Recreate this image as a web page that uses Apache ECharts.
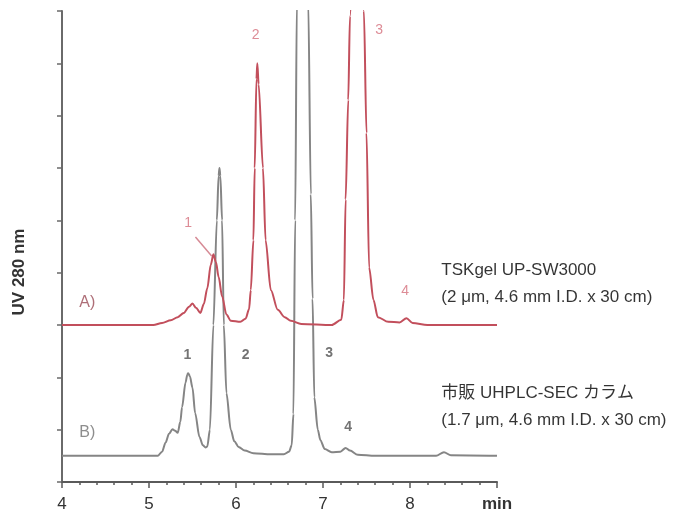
<!DOCTYPE html>
<html lang="ja">
<head>
  <meta charset="UTF-8">
  <title>UV 280 nm chromatogram</title>
  <script src="https://cdn.jsdelivr.net/npm/echarts@6/dist/echarts.min.js"></script>
  <style>
    * { margin: 0; padding: 0; }
    body { background: #fff; }
    #chart { width: 690px; height: 515px; }
  </style>
</head>
<body>
  <div id="chart"></div>
  <script>
    // A) TSKgel UP-SW3000 : [min, signal]
    const traceA = [
      [4.0, 3.0], [5.05, 3.0], [5.15, 3.04], [5.25, 3.09], [5.33, 3.15], [5.40, 3.23], [5.46, 3.35], [5.50, 3.41],
      [5.54, 3.33], [5.59, 3.23], [5.63, 3.40], [5.67, 3.70], [5.71, 4.15], [5.74, 4.35], [5.77, 4.2],
      [5.80, 3.92], [5.84, 3.55], [5.89, 3.2], [5.94, 3.08], [6.05, 3.06], [6.11, 3.12], [6.15, 3.3], [6.17, 3.67],
      [6.20, 4.62], [6.215, 6.0], [6.235, 7.7], [6.245, 8.0], [6.26, 7.6], [6.31, 6.0], [6.34, 4.62], [6.40, 3.67],
      [6.48, 3.29], [6.56, 3.15], [6.63, 3.08], [6.75, 3.02], [7.1, 3.0], [7.21, 3.10], [7.24, 3.48], [7.26, 5.4],
      [7.29, 7.3], [7.31, 8.9], [7.39, 14], [7.47, 9.0], [7.50, 6.67], [7.53, 4.1], [7.58, 3.48], [7.63, 3.15],
      [7.75, 3.06], [7.88, 3.05], [7.96, 3.13], [8.03, 3.04], [8.2, 3.0], [9.0, 3.0]
    ];
    // B) commercial UHPLC-SEC column
    const traceB = [
      [4.0, 0.5], [5.10, 0.5], [5.15, 0.58], [5.19, 0.75], [5.23, 0.92], [5.27, 1.01], [5.30, 0.98],
      [5.33, 0.94], [5.36, 1.15], [5.38, 1.43], [5.42, 1.9], [5.44, 2.05], [5.45, 2.08], [5.47, 2.02], [5.50, 1.8],
      [5.53, 1.32], [5.58, 0.86], [5.62, 0.70], [5.65, 0.66], [5.67, 0.68], [5.70, 1.0], [5.74, 3.0],
      [5.78, 5.0], [5.80, 5.85], [5.81, 6.0], [5.82, 5.85], [5.84, 5.0], [5.86, 3.0], [5.89, 1.7], [5.94, 1.0],
      [5.98, 0.78], [6.03, 0.67], [6.1, 0.6], [6.2, 0.55], [6.4, 0.53], [6.55, 0.53], [6.61, 0.58], [6.64, 0.7],
      [6.66, 1.3], [6.68, 5.0], [6.70, 9.2], [6.76, 20], [6.83, 9.2], [6.86, 5.5], [6.88, 3.5],
      [6.90, 1.62], [6.94, 1.0], [6.97, 0.8], [7.02, 0.63], [7.1, 0.57], [7.2, 0.58], [7.26, 0.65],
      [7.31, 0.6], [7.4, 0.52], [7.6, 0.5], [8.3, 0.5], [8.39, 0.57], [8.47, 0.51], [9.0, 0.5]
    ];
    // leader line for red peak 1
    const leaderA1 = [[5.534, 4.68], [5.72, 4.32]];

    // peak labels [min, signal, text]
    const labelsA = [[5.45, 4.95, '1'], [6.226, 8.54, '2'], [7.645, 8.64, '3'], [7.945, 3.65, '4']];
    const labelsB = [[5.44, 2.43, '1'], [6.11, 2.43, '2'], [7.07, 2.46, '3'], [7.29, 1.05, '4']];
    const tagA = [[4.29, 3.42, 'A)']];
    const tagB = [[4.29, 0.94, 'B)']];
    const noteA = [[8.36, 4.04, 'TSKgel UP-SW3000'], [8.36, 3.53, '(2 μm, 4.6 mm I.D. x 30 cm)']];
    const noteB = [[8.36, 1.70, '市販 UHPLC-SEC カラム'], [8.36, 1.18, '(1.7 μm, 4.6 mm I.D. x 30 cm)']];

    const font = "'Liberation Sans', Arial, 'Noto Sans CJK JP', sans-serif";
    const red = '#c24f5c';
    const gray = '#858585';

    function textSeries(data, color, size, weight, align) {
      return {
        type: 'scatter',
        symbolSize: 0,
        silent: true,
        data: data,
        label: {
          show: true,
          position: 'inside',
          align: align || 'center',
          verticalAlign: 'middle',
          formatter: p => p.data[2],
          color: color,
          fontSize: size,
          fontWeight: weight,
          fontFamily: font
        }
      };
    }

    const chart = echarts.init(document.getElementById('chart'));
    chart.setOption({
      animation: false,
      grid: { left: 62, right: 193, top: 11, bottom: 33 },
      xAxis: {
        type: 'value',
        min: 4, max: 9, interval: 1,
        splitLine: { show: false },
        axisLine: { lineStyle: { color: '#5a5a5a', width: 2 } },
        axisTick: { length: 6, lineStyle: { color: '#5a5a5a', width: 1.5 } },
        minorTick: { show: true, splitNumber: 5, length: 3, lineStyle: { color: '#5a5a5a', width: 1.5 } },
        axisLabel: {
          margin: 14,
          fontSize: 17,
          color: '#333',
          fontFamily: font,
          formatter: v => v === 9 ? '{u|min}' : String(v),
          rich: { u: { fontSize: 17, fontWeight: 'bold', color: '#333', fontFamily: font } }
        }
      },
      yAxis: {
        type: 'value',
        min: 0, max: 9, interval: 1,
        splitLine: { show: false },
        axisLine: { show: true, lineStyle: { color: '#6a6a6a', width: 2 } },
        axisTick: { show: true, length: 5, lineStyle: { color: '#6a6a6a', width: 1.5 } },
        axisLabel: { show: false }
      },
      graphic: [{
        type: 'text',
        x: 19, y: 272,
        rotation: Math.PI / 2,
        style: {
          text: 'UV 280 nm',
          fill: '#333',
          font: 'bold 17px ' + font,
          align: 'center',
          verticalAlign: 'middle'
        }
      }],
      series: [
        {
          type: 'line', data: traceB, showSymbol: false, smooth: 0.3, smoothMonotone: 'x',
          lineStyle: { color: gray, width: 2 }, z: 3
        },
        {
          type: 'line', data: traceA, showSymbol: false, smooth: 0.3, smoothMonotone: 'x',
          lineStyle: { color: red, width: 2 }, z: 4
        },
        {
          type: 'line', data: leaderA1, showSymbol: false,
          lineStyle: { color: '#d68a95', width: 1.5 }
        },
        textSeries(labelsA, '#d46f7c', 14, 'normal'),
        textSeries(labelsB, '#505050', 14, 'bold'),
        textSeries(tagA, '#9a4a55', 16, 'normal'),
        textSeries(tagB, '#707070', 16, 'normal'),
        textSeries(noteA, '#000', 17, 'normal', 'left'),
        textSeries(noteB, '#000', 17, 'normal', 'left')
      ]
    });
  </script>
</body>
</html>
